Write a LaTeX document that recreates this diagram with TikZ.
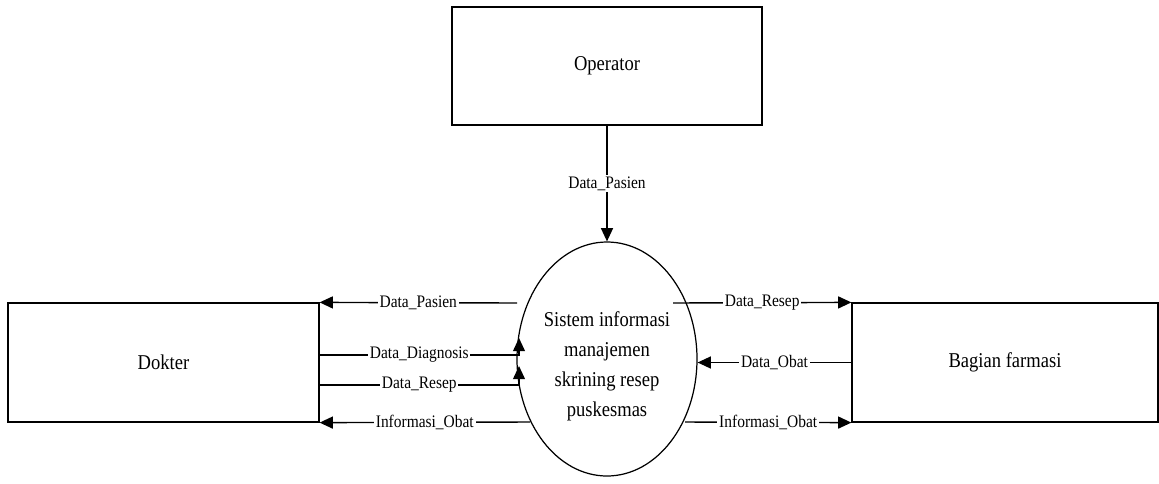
\documentclass[tikz,border=0pt]{standalone}
\usepackage{fontspec}
\setmainfont{Liberation Serif}[FakeStretch=0.88]
\usepackage{tikz}
\usetikzlibrary{arrows.meta,shapes.geometric}

\tikzset{
  entity/.style={draw,line width=0.7pt,minimum width=6.2cm,minimum height=2.36cm,font=\fontsize{12}{14}\selectfont},
  process/.style={draw,ellipse,line width=0.7pt,minimum width=3.6cm,minimum height=4.68cm,inner sep=0pt,align=center,font=\fontsize{12}{17}\selectfont},
  flow/.style={draw,-{Triangle[length=7.5pt,width=6.8pt]},line width=0.8pt},
  lbl/.style={fill=white,inner sep=1pt,font=\fontsize{10}{12}\selectfont}
}

\begin{document}
\begin{tikzpicture}
    \useasboundingbox (0,0) rectangle (23.18,-9.66);
    \node[entity] (op) at (12.14,-1.32) {Operator};
    \node[process] (sis) at (12.14,-7.18) {\rule{0pt}{0.6cm}Sistem informasi\\manajemen\\skrining resep\\puskesmas};
    \node[entity,minimum width=6.22cm,minimum height=2.38cm] (dok) at (3.27,-7.25) {Dokter};
    \node[entity,minimum width=6.12cm,minimum height=2.38cm] (far) at (20.1,-7.25) {Bagian farmasi};

    \coordinate (p1) at (10.34,-6.06);
    \coordinate (p2) at (10.38,-6.76);
    \coordinate (p3) at (10.38,-7.32);
    \coordinate (p4) at (10.6,-8.44);
    \coordinate (p5) at (13.46,-6.06);
    \coordinate (p6) at (13.70,-8.44);

    \path[every edge/.style={flow}]
    (op) edge node[lbl] {Data\_Pasien} (sis)
    (p1) edge node[lbl] {Data\_Pasien} (dok.north east)
    (p4) edge node[lbl] {Informasi\_Obat} (dok.south east)
    (p5) edge node[lbl] {Data\_Resep} (far.north west)
    (far.west) edge node[lbl] {Data\_Obat} (sis.east |- far.west)
    (p6) edge node[lbl] {Informasi\_Obat} (far.south west)
    ;
    \draw[flow] ([yshift=0.15cm]dok.east) -| node[lbl,pos=0.25] {Data\_Diagnosis} (p2);
    \draw[flow] ([yshift=-0.45cm]dok.east) -| node[lbl,pos=0.25] {Data\_Resep} (p3);
\end{tikzpicture}
\end{document}
